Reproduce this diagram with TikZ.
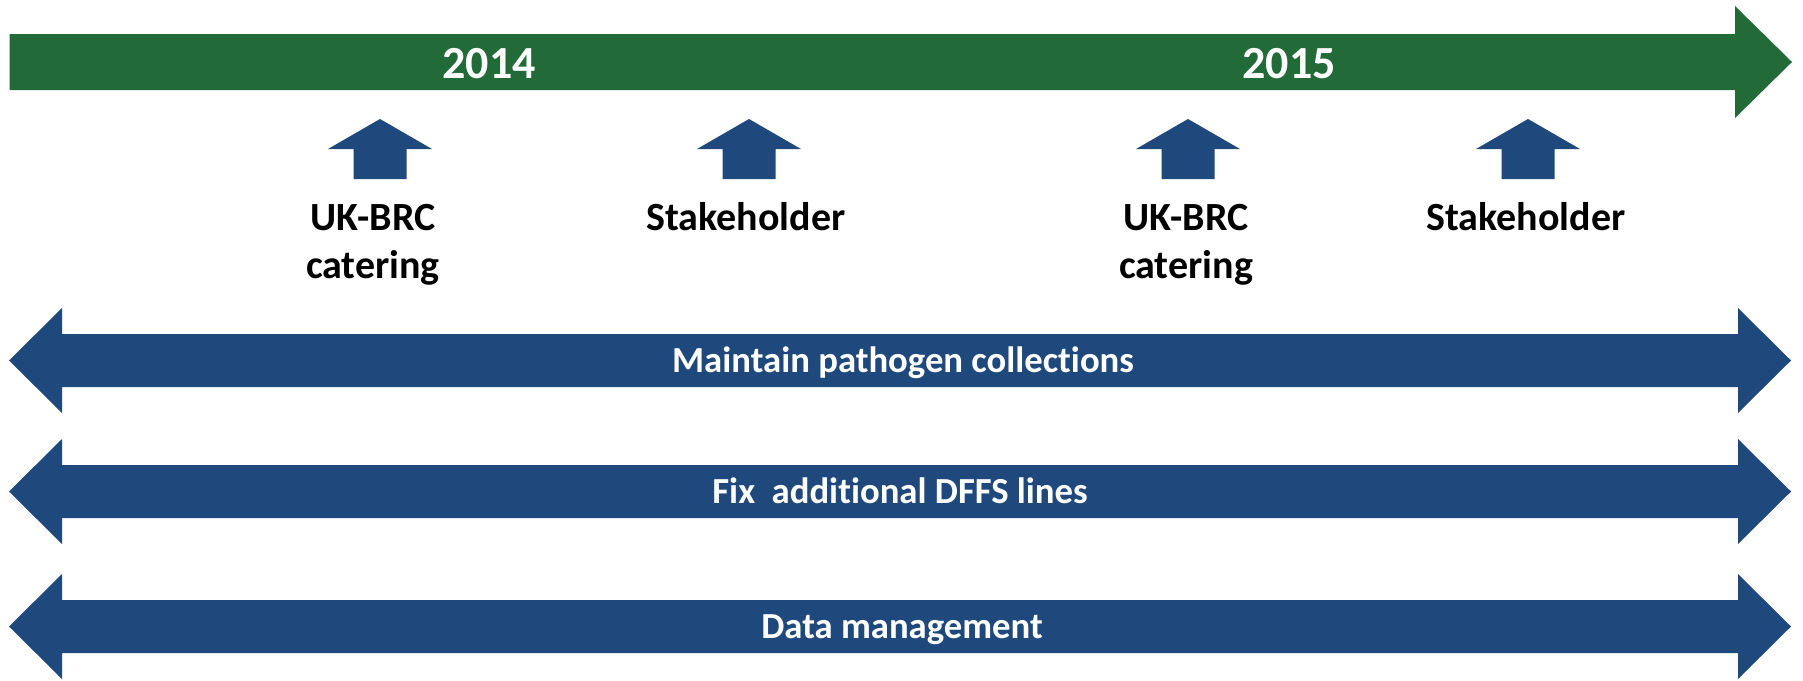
\documentclass[tikz,border=0pt]{standalone}
\usepackage{fontspec}
\setmainfont{Carlito}[Ligatures=NoCommon,RawFeature={-liga;-clig;-calt}]
\definecolor{tlgreen}{RGB}{34,106,56}
\definecolor{tlblue}{RGB}{31,73,125}
\begin{document}
\begin{tikzpicture}[x=1pt,y=-1pt,
  yeartxt/.style={text=white,font=\bfseries\fontsize{46}{55}\selectfont,anchor=base,inner sep=0pt},
  evtxt/.style={text=black,font=\bfseries\fontsize{40}{48}\selectfont,align=center,anchor=base,inner sep=0pt},
  bartxt/.style={text=white,font=\bfseries\fontsize{36.7}{44}\selectfont,anchor=base,inner sep=0pt},
  uparrow/.style={fill=tlblue},
  dblarrow/.style={fill=tlblue}]
\useasboundingbox (0,0) rectangle (1803,680);
% timeline
\fill[tlgreen] (9.6,34) -- (1735,34) -- (1735,6) -- (1792,62) -- (1735,118) -- (1735,90) -- (9.6,90) -- cycle;
\node[yeartxt] (y2014) at (489,78) {2014};
\node[yeartxt] (y2015) at (1289,78) {2015};
% up arrows
\foreach \cx in {380,749,1188,1528}{
  \fill[uparrow] (\cx,119) -- (\cx+52,149) -- (\cx+26.5,149) -- (\cx+26.5,179) -- (\cx-26.5,179) -- (\cx-26.5,149) -- (\cx-52,149) -- cycle;
}
\node[evtxt] (ev1) at (373,278) {UK-BRC\\catering};
\node[evtxt] (ev2) at (746,230) {Stakeholder};
\node[evtxt] (ev3) at (1186,278) {UK-BRC\\catering};
\node[evtxt] (ev4) at (1526,230) {Stakeholder};
% double arrows
\foreach \cy in {360.5,491.5,626.5}{
  \fill[dblarrow] (9,\cy) -- (62,\cy-52.5) -- (62,\cy-26.5) -- (1738,\cy-26.5) -- (1738,\cy-52.5) -- (1791,\cy) -- (1738,\cy+52.5) -- (1738,\cy+26.5) -- (62,\cy+26.5) -- (62,\cy+52.5) -- cycle;
}
\node[bartxt] (b1) at (903,372.5) {Maintain pathogen collect\kern0pt ions};
\node[bartxt] (b2) at (900,503.5) {Fix\ \ addit\kern0pt ional DFFS lines};
\node[bartxt] (b3) at (902,638.5) {Data management};
\end{tikzpicture}
\end{document}
